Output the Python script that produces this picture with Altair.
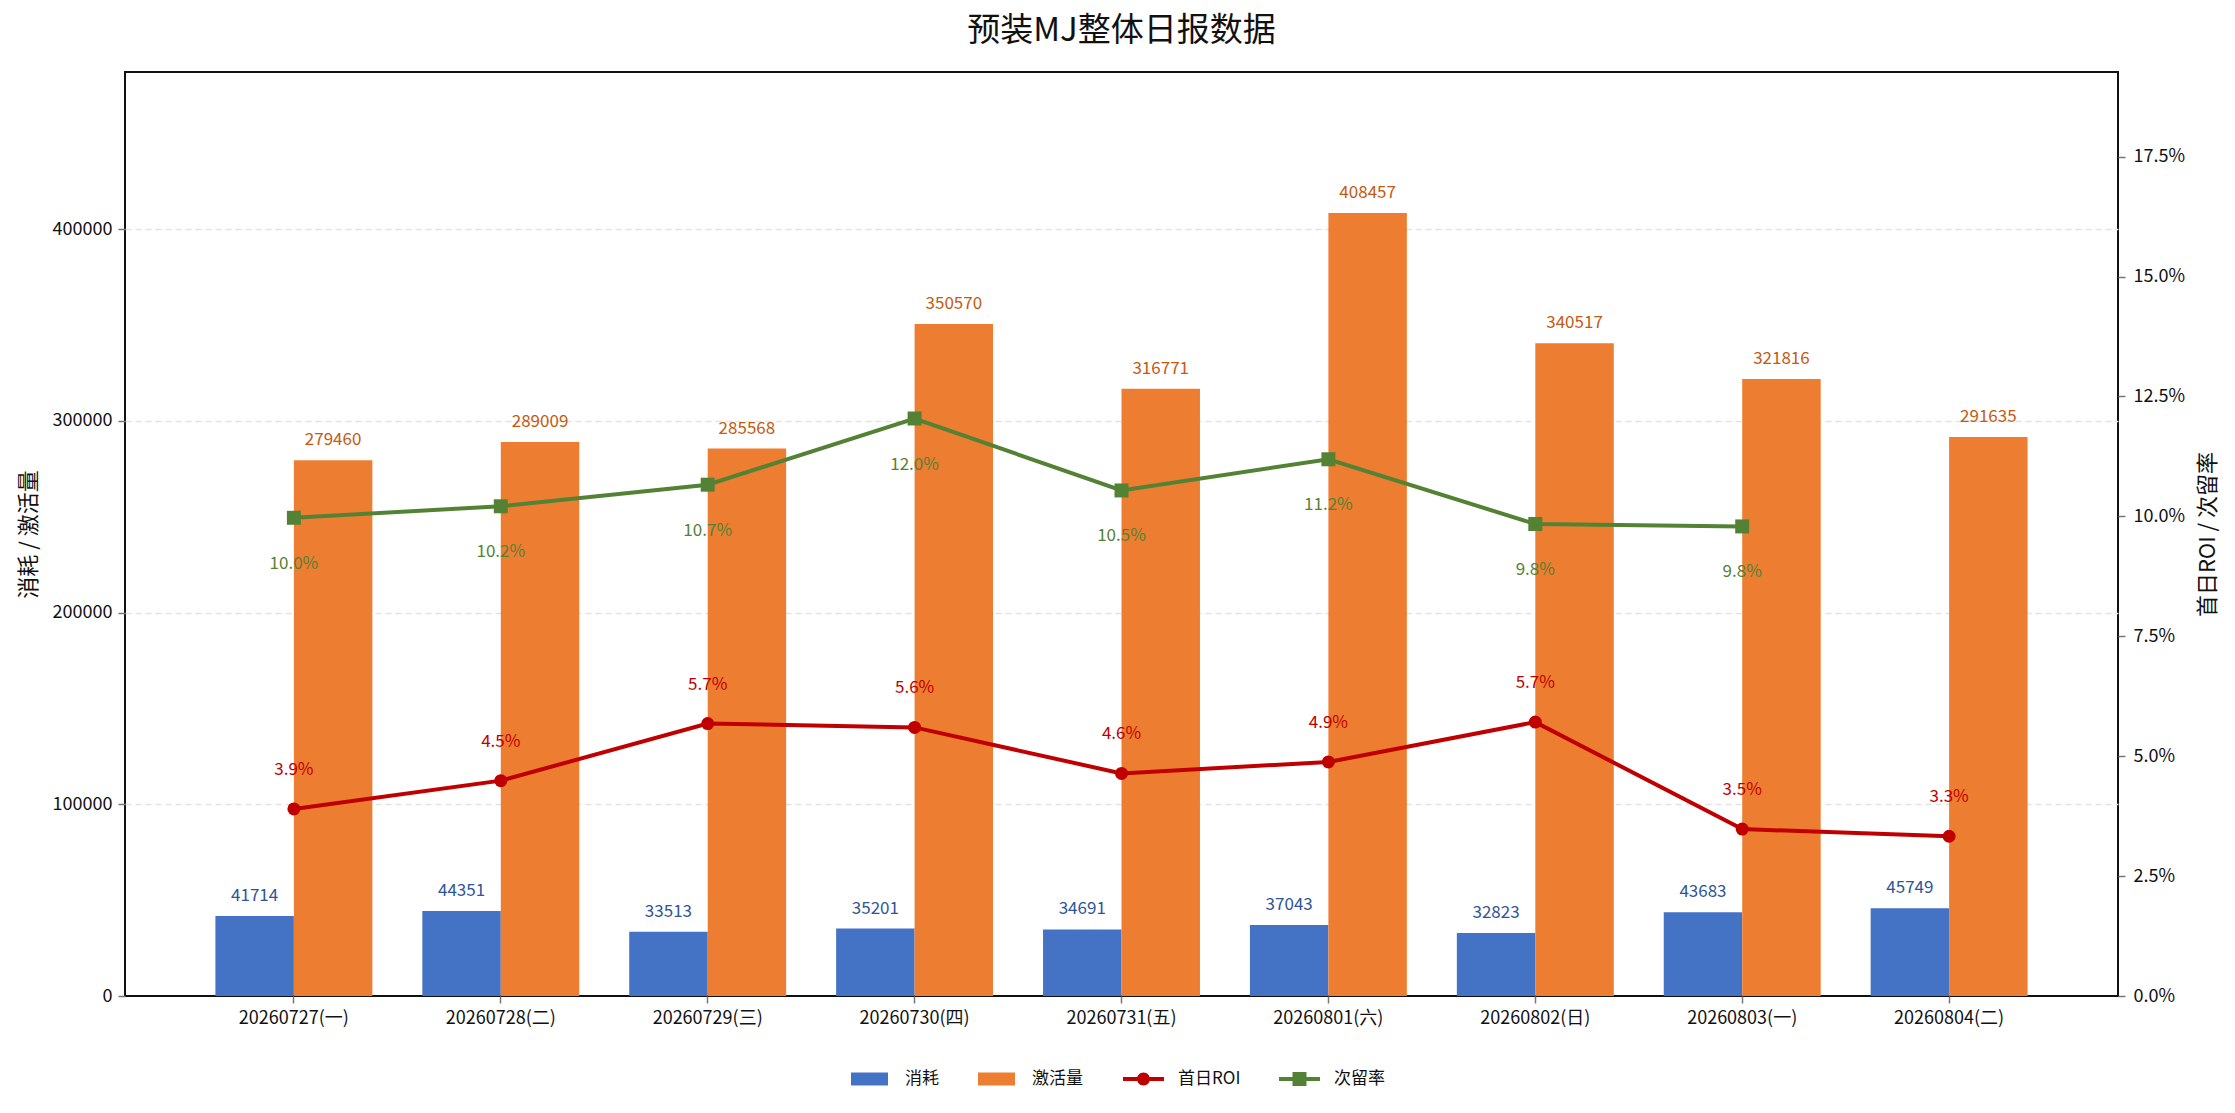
import altair as alt
import pandas as pd

# ---------------- data ----------------
dates = ["20260727(一)", "20260728(二)", "20260729(三)", "20260730(四)", "20260731(五)",
         "20260801(六)", "20260802(日)", "20260803(一)", "20260804(二)"]
spend = [41714, 44351, 33513, 35201, 34691, 37043, 32823, 43683, 45749]
activations = [279460, 289009, 285568, 350570, 316771, 408457, 340517, 321816, 291635]
roi = [3.90, 4.49, 5.68, 5.60, 4.64, 4.88, 5.71, 3.48, 3.33]            # %
retention = [9.97, 10.21, 10.66, 12.04, 10.54, 11.19, 9.84, 9.79, None]  # %

bar_series = ["消耗", "激活量"]
line_series = ["首日ROI", "次留率"]
left_ticks = [0, 100000, 200000, 300000, 400000]
right_ticks = [0, 2.5, 5, 7.5, 10, 12.5, 15, 17.5]

# ---------------- style ----------------
FONT = "Noto Sans CJK SC"
BLUE, ORANGE, RED, GREEN = "#4472C4", "#ED7D31", "#C00000", "#548235"
BLUE_TXT, ORANGE_TXT = "#2F5597", "#C55A11"
INK = "#111111"

# legend symbol paths (unit box -1..1 scaled by sqrt(symbolSize)/2)
PATH_RECT = "M-1,-0.65H2.7V0.65H-1Z"
PATH_ROI = ("M-1,-0.19H0.42V0.19H-1Z M1.68,-0.19H3.1V0.19H1.68Z "
            "M1.7,0A0.65,0.65 0 1,1 0.4,0A0.65,0.65 0 1,1 1.7,0Z")
PATH_RET = "M-1,-0.19H0.35V0.19H-1Z M1.75,-0.19H3.1V0.19H1.75Z M0.35,-0.7H1.75V0.7H0.35Z"

bar_rows = []
for d, s, a in zip(dates, spend, activations):
    bar_rows.append({"date": d, "series": bar_series[0], "value": s})
    bar_rows.append({"date": d, "series": bar_series[1], "value": a})
bars_df = pd.DataFrame(bar_rows)

line_rows = []
for d, r, t in zip(dates, roi, retention):
    line_rows.append({"date": d, "series": line_series[0], "rate": r})
    if t is not None:
        line_rows.append({"date": d, "series": line_series[1], "rate": t})
lines_df = pd.DataFrame(line_rows)

left_max = max(activations) * 1.18
right_max = max(max(roi), max(v for v in retention if v is not None)) * 1.6

W, H = 1993, 924

x_enc = alt.X(
    "date:N", sort=dates, title=None,
    scale=alt.Scale(paddingInner=0.2415, paddingOuter=0.437),
    axis=alt.Axis(labelAngle=0, labelFontSize=18, labelPadding=6, tickColor="#777777",
                  tickSize=7, tickWidth=1.5, domain=False, grid=False),
)
xoff_enc = alt.XOffset("series:N", sort=bar_series,
                       scale=alt.Scale(domain=bar_series, paddingInner=0, paddingOuter=0))

y_left = alt.Y(
    "value:Q",
    scale=alt.Scale(domain=[0, left_max], nice=False, zero=True),
    axis=alt.Axis(values=left_ticks, format="d", title="消耗 / 激活量", titleFontSize=22,
                  titleX=-97, titleY=H / 2, titleBaseline="middle", titleAngle=270,
                  labelFontSize=18, labelPadding=6, tickColor="#777777", tickSize=7,
                  tickWidth=1.5, domain=False, grid=True, gridColor="#e2e2e2",
                  gridDash=[6, 4], gridWidth=1.4,
                  gridOpacity={"condition": {"test": "datum.value === 0", "value": 0},
                               "value": 1}),
)
y_right = alt.Y(
    "rate:Q",
    scale=alt.Scale(domain=[0, right_max], nice=False, zero=True),
    axis=alt.Axis(orient="right", values=right_ticks,
                  labelExpr="format(datum.value, '.1f') + '%'",
                  title="首日ROI / 次留率", titleFontSize=22, titleX=89, titleY=H / 2,
                  titleBaseline="middle", titleAngle=270,
                  labelFontSize=18, labelPadding=8, tickColor="#777777", tickSize=7,
                  tickWidth=1.5, domain=False, grid=False),
)

bar_legend = alt.Legend(
    title=None, orient="none", legendX=726, legendY=997, direction="horizontal",
    symbolType=PATH_RECT, symbolSize=400, symbolStrokeWidth=0, labelOffset=34,
    columnPadding=39, labelFontSize=17, labelFont=FONT, labelColor=INK,
)
line_legend = alt.Legend(
    title=None, orient="none", legendX=998, legendY=997, direction="horizontal",
    symbolSize=400, symbolStrokeWidth=0, symbolOpacity=1, labelOffset=35,
    columnPadding=38, labelFontSize=17, labelFont=FONT, labelColor=INK,
)

# ---------------- left (bars) ----------------
bars_base = alt.Chart(bars_df)
bars = bars_base.mark_bar().encode(
    x=x_enc, xOffset=xoff_enc, y=y_left,
    fill=alt.Fill("series:N", sort=bar_series,
                  scale=alt.Scale(domain=bar_series, range=[BLUE, ORANGE]),
                  legend=bar_legend),
)
bar_text = bars_base.mark_text(font=FONT, fontSize=17, baseline="alphabetic", dy=-15).encode(
    x=x_enc, xOffset=xoff_enc, y=y_left,
    text=alt.Text("value:Q", format="d"),
    color=alt.condition(alt.datum.series == bar_series[0], alt.value(BLUE_TXT), alt.value(ORANGE_TXT)),
)
left = alt.layer(bars, bar_text)

# ---------------- right (lines) ----------------
lb = alt.Chart(lines_df)
roi_b = lb.transform_filter(alt.datum.series == line_series[0])
ret_b = lb.transform_filter(alt.datum.series == line_series[1])

roi_line = roi_b.mark_line(color=RED, strokeWidth=4).encode(x=x_enc, y=y_right)
ret_line = ret_b.mark_line(color=GREEN, strokeWidth=4).encode(x=x_enc, y=y_right)
roi_pts = roi_b.mark_point(shape="circle", filled=True, size=169, color=RED, opacity=1).encode(x=x_enc, y=y_right)
ret_pts = ret_b.mark_point(shape="square", filled=True, size=196, color=GREEN, opacity=1).encode(x=x_enc, y=y_right)
roi_txt = roi_b.transform_calculate(label="format(datum.rate, '.1f') + '%'").mark_text(
    font=FONT, fontSize=17, color=RED, baseline="alphabetic", dy=-34
).encode(x=x_enc, y=y_right, text="label:N")
ret_txt = ret_b.transform_calculate(label="format(datum.rate, '.1f') + '%'").mark_text(
    font=FONT, fontSize=17, color=GREEN, baseline="alphabetic", dy=51
).encode(x=x_enc, y=y_right, text="label:N")
legend_layer = lb.mark_point(filled=True, opacity=0).encode(
    x=x_enc, y=y_right,
    color=alt.Color("series:N", scale=alt.Scale(domain=line_series, range=[RED, GREEN]),
                    legend=line_legend),
    shape=alt.Shape("series:N", scale=alt.Scale(domain=line_series, range=[PATH_ROI, PATH_RET]),
                    legend=line_legend),
)
right = alt.layer(roi_line, ret_line, roi_pts, ret_pts, roi_txt, ret_txt, legend_layer)

chart = (
    alt.layer(left, right)
    .resolve_scale(y="independent")
    .properties(
        width=W, height=H,
        autosize=alt.AutoSizeParams(type="none"),
        padding={"left": 117, "top": 64, "right": 109, "bottom": 109},
        title=alt.Title("预装MJ整体日报数据", font=FONT, fontSize=33, fontWeight="normal",
                        color=INK, anchor="middle", frame="group", offset=-2,
                        baseline="alphabetic"),
    )
    .configure_view(stroke=INK, strokeWidth=2)
    .configure_axis(labelFont=FONT, titleFont=FONT, labelColor=INK, titleColor=INK,
                    titleFontWeight="normal")
    .configure_legend(labelFont=FONT)
)

chart.save("out.html", embed_options={"renderer": "svg", "actions": False})
